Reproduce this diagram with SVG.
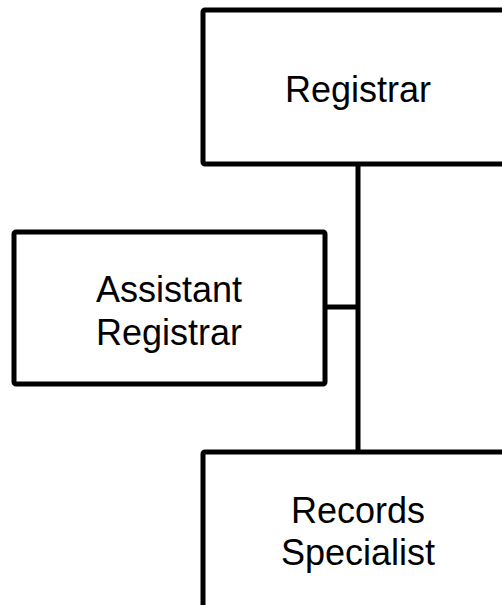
<svg xmlns="http://www.w3.org/2000/svg" width="502" height="605" viewBox="0 0 502 605">
<style>
.box{fill:#fff;stroke:#000;stroke-width:5;stroke-linejoin:round}
.lbl{font-family:"Liberation Sans",Arial,sans-serif;font-size:36px;fill:#000;text-anchor:middle}
.conn{stroke:#000;stroke-width:5;fill:none}
</style>
<rect width="502" height="605" fill="#fff"/>
<g id="connectors">
<line class="conn" x1="358" y1="164" x2="358" y2="452"/>
<line class="conn" x1="325" y1="307" x2="358" y2="307"/>
</g>
<g id="registrar">
<rect class="box" x="203" y="10" width="311" height="154" rx="2"/>
<text class="lbl" x="358" y="102">Registrar</text>
</g>
<g id="assistant-registrar">
<rect class="box" x="14" y="232" width="311" height="152" rx="2"/>
<text class="lbl" x="169" y="302">Assistant</text>
<text class="lbl" x="169" y="345">Registrar</text>
</g>
<g id="records-specialist">
<rect class="box" x="203" y="452" width="311" height="156" rx="2"/>
<text class="lbl" x="358" y="523">Records</text>
<text class="lbl" x="358" y="565">Specialist</text>
</g>
</svg>
